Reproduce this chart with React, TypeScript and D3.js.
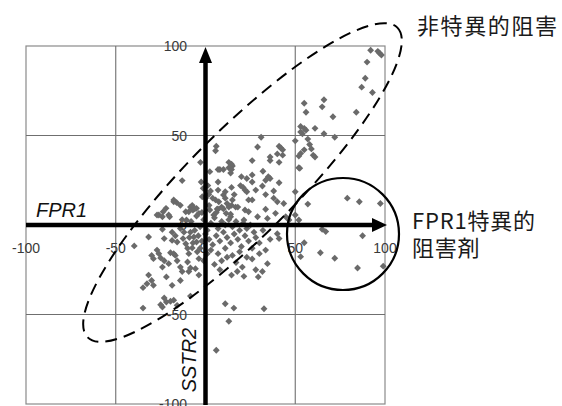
import * as d3 from "d3";

const WIDTH = 562;
const HEIGHT = 406;
const PLOT = { left: 26, right: 385, top: 46, bottom: 404 };

const TICKS = [-100, -50, 0, 50, 100];
const GRID = [-50, 50];

// points, [FPR1, SSTR2]
const upperArm: [number, number][] = [
  [92, 97.6], [96, 97], [97, 96], [98, 95], [90, 91], [89, 82], [87, 77], [93, 74],
  [55, 68], [66, 70], [65, 66], [56, 63], [71, 60.5], [84, 63], [53, 55], [55, 54],
  [56, 53], [61, 54], [54, 51], [66, 51], [72, 49], [57, 48], [50, 47], [58, 45],
  [55, 42], [59, 42.5], [52, 38.5], [60, 39], [61, 38], [42, 43], [43, 39], [52, 32],
  [53, 52], [53, 40], [52.5, 31.7], [50, 18.6],
];

const midUpper: [number, number][] = [
  [31, 49], [6, 44], [29, 43.6], [41, 44], [43, 42], [36, 38], [36, 36], [40, 39.7],
  [26, 36], [13, 35], [15, 33], [41, 35], [14.5, 34], [13, 32], [14.5, 31], [14, 29],
  [8, 31], [10, 31], [32, 30], [26, 28], [20, 27], [23, 26], [35, 27], [33.5, 25],
  [36, 26], [7, 24], [26, 24], [41, 23.6], [19.5, 22], [21, 21], [22, 19.5], [23, 18.6],
  [14.5, 21], [28, 19.5], [31.7, 21.8], [38, 19], [11, 18.6], [10, 16.8], [11, 15],
  [16, 17], [15, 14], [33.5, 17], [24, 14], [26, 14], [38, 15], [40, 13], [43.6, 12],
  [7.4, 13], [9, 10], [6.5, 9], [13, 10], [14.5, 11], [16.8, 10], [22, 8.4], [24, 7.4],
  [33.5, 8.8], [11.5, 6.5], [14, 4.6], [29, 4.6], [34.5, 3.7], [39, 6.5], [44.7, 4.6],
  [46.5, 2.8], [21.4, 2.8], [50, 5.6], [52, 2.8], [5.6, 41.5], [-2.8, 35], [2.4, 29.8],
  [7, 31],
];

const leftUpper: [number, number][] = [
  [-13, 24.8], [-2.4, 24], [-1.3, 20.5], [1.3, 22], [2.8, 19], [1.8, 17], [-1.8, 15.8],
  [0, 15], [7, 19.5], [5.6, 14], [-17.7, 14], [-16, 12.5], [-14, 11], [-22, 9.3],
  [-8.4, 10], [-7, 8.4], [-9.3, 7.4], [-5, 9.3], [-3.7, 6.5], [-26, 5.6], [-24, 4.6],
  [-20, 4.6], [2.4, 8.4], [4.6, 5.6], [7, 8.8], [-13, 3], [-10.6, 2.8], [-17.7, 13],
  [-23.6, 7.4], [-20.5, 5.6], [-11, 7.4], [-7.4, 11], [-27, 5.6],
];

const lowerLeft: [number, number][] = [
  [-24, -2.4], [-31.7, -6.7], [-39.7, -11.7], [-23, -7.6], [-18.6, -4], [-16.8, -6],
  [-18.6, -8.6], [-15.8, -9.5], [-14, -2], [-12, -4], [-12.5, -7.6], [-11, -10.5],
  [-8.4, -4], [-6.5, -6.7], [-5, -9.5], [-10, -13], [-7.4, -12.8], [-9.3, -16],
  [-4.6, -15], [-3.7, -18.8], [-27, -14], [-26, -16], [-25, -18.4], [-30, -17],
  [-29, -18.8], [-19.5, -15.5], [-17.7, -16], [-16.8, -17], [-23, -20], [-20.5, -21.6],
  [-24, -23.5], [-15.8, -20], [-14, -23.5], [-10, -20.7], [-8.4, -24], [-9.3, -26],
  [-5.6, -24.4], [-3.7, -28], [-31.7, -28], [-30, -31], [-32.6, -32.8], [-29, -33.7],
  [-21.8, -29], [-13, -26], [-14, -31], [-34.8, -35], [-18.6, -33.7], [-8.4, -39.7],
  [-23, -40.8], [-21.8, -43], [-19.5, -42.6], [-17.7, -42], [-15.8, -44.9], [-25, -44.5],
  [-24, -45.8], [-34.8, -46.4],
];

const core: [number, number][] = [
  [-8, 2], [-5, 5], [-3, -1], [-1, 3], [1, -3], [3, 1], [5, 4], [7, -2], [9, 2], [11, 0],
  [13, 3], [15, -1], [17, 2], [19, -3], [21, 1], [23, -2], [25, 0], [27, -4], [-6, -3],
  [-4, -6], [-2, -9], [0, -5], [2, -8], [4, -11], [6, -6], [8, -9], [10, -4], [12, -7],
  [14, -10], [16, -5], [18, -8], [20, -12], [22, -6], [24, -9], [26, -13], [28, -7],
  [3, -14], [7, -16], [11, -13], [15, -17], [19, -15], [23, -18], [9, -20], [5, -22],
  [-7, -10], [-9, -7], [-3, -13], [1, -16], [-1, -20], [6, 7], [10, 9], [14, 6], [18, 10],
  [2, 11], [-2, 7], [-6, 9], [12, 12], [4, 15], [30, -10], [32, -3], [36, -8], [8, -25],
  [12, -18], [17, -21], [26, -19], [30, -16],
  [40, -4.9], [41, -7.6], [33.5, -14], [34.5, -21.6], [20.5, -23.5], [17.7, -26],
  [14.5, -28], [28, -25], [31.7, -26], [29.4, -29], [21.4, -28.7], [11, -44], [15.8, -46.4],
  [32.6, -46.8], [13, -53.8], [6, -70],
];

const specific: [number, number][] = [
  [57, 11.7], [65, -2.4], [67, -3.7], [55, -9.9], [53, -17.7], [64, -15.5], [72, -18.6],
  [87.5, -6], [84.7, -24], [99, -23], [97.4, 12], [79, 15], [85.7, 13],
];

const ALL_POINTS = [...upperArm, ...midUpper, ...leftUpper, ...lowerLeft, ...core, ...specific];

const x = d3.scaleLinear().domain([-100, 100]).range([PLOT.left, PLOT.right]);
const y = d3.scaleLinear().domain([-100, 100]).range([PLOT.bottom, PLOT.top]);
const diamond = d3.symbol().type(d3.symbolDiamond2).size(30)() || "";

const TICK_FONT = "'Liberation Sans', Arial, sans-serif";
const CJK_FONT = "'Noto Sans CJK JP', 'Noto Sans', sans-serif";

export default function App() {
  const x0 = x(0);
  const y0 = y(0);
  return (
    <svg
      width={WIDTH}
      height={HEIGHT}
      viewBox={`0 0 ${WIDTH} ${HEIGHT}`}
      style={{ position: "absolute", left: 0, top: 0, background: "#fff" }}
    >
      <rect x={0} y={0} width={WIDTH} height={HEIGHT} fill="#fff" />

      {/* grid + frame */}
      <rect
        x={PLOT.left}
        y={PLOT.top}
        width={PLOT.right - PLOT.left}
        height={PLOT.bottom - PLOT.top}
        fill="none"
        stroke="#8a8a8a"
        strokeWidth={1.2}
      />
      {GRID.map((g) => (
        <g key={`g-${g}`}>
          <line x1={x(g)} x2={x(g)} y1={PLOT.top} y2={PLOT.bottom} stroke="#6f6f6f" strokeWidth={1.1} />
          <line x1={PLOT.left} x2={PLOT.right} y1={y(g)} y2={y(g)} stroke="#6f6f6f" strokeWidth={1.1} />
        </g>
      ))}

      {/* tick labels */}
      {TICKS.map((t) => (
        <text
          key={`yl-${t}`}
          x={187}
          y={y(t) + 5}
          textAnchor="end"
          fontFamily={TICK_FONT}
          fontSize={14}
          fill="#3a3a3a"
        >
          {t}
        </text>
      ))}
      {TICKS.map((t) => (
        <text
          key={`xl-${t}`}
          x={x(t) - (t === 0 ? 2 : 0)}
          y={y0 + 28}
          textAnchor="middle"
          fontFamily={TICK_FONT}
          fontSize={14}
          fill="#3a3a3a"
        >
          {t}
        </text>
      ))}

      {/* points */}
      {ALL_POINTS.map(([px, py], i) => (
        <path key={`p-${i}`} d={diamond} transform={`translate(${x(px)},${y(py)})`} fill="#6a6a6a" />
      ))}

      {/* thick axes with arrows */}
      <line x1={PLOT.left} x2={PLOT.right - 10} y1={y0} y2={y0} stroke="#000" strokeWidth={4.5} />
      <path
        d={`M${PLOT.right + 2},${y0} L${PLOT.right - 13},${y0 - 7} L${PLOT.right - 13},${y0 + 7} Z`}
        fill="#000"
      />
      <line x1={x0} x2={x0} y1={PLOT.bottom + 1} y2={PLOT.top + 12} stroke="#000" strokeWidth={4.5} />
      <path
        d={`M${x0},${PLOT.top + 1} L${x0 - 6.5},${PLOT.top + 17} L${x0 + 6.5},${PLOT.top + 17} Z`}
        fill="#000"
      />

      {/* ellipse and circle */}
      <ellipse
        cx={242.5}
        cy={182.5}
        rx={219}
        ry={53}
        transform="rotate(-45 242.5 182.5)"
        fill="none"
        stroke="#000"
        strokeWidth={2}
        strokeDasharray="12 7"
      />
      <circle cx={343} cy={234} r={56} fill="none" stroke="#000" strokeWidth={2.2} />

      {/* axis titles */}
      <text x={36} y={217} fontFamily={TICK_FONT} fontStyle="italic" fontSize={20} fill="#111">
        FPR1
      </text>
      <text
        transform="translate(196,360) rotate(-90)"
        textAnchor="middle"
        fontFamily={TICK_FONT}
        fontStyle="italic"
        fontSize={20}
        fill="#111"
      >
        SSTR2
      </text>

      {/* annotations */}
      <text x={417} y={34} fontFamily={CJK_FONT} fontSize={22} letterSpacing={1.6} fill="#1a1a1a">
        非特異的阻害
      </text>
      <text x={412} y={229} fontFamily={CJK_FONT} fontSize={22} letterSpacing={0.8} fill="#1a1a1a">
        FPR1特異的
      </text>
      <text x={412} y={256} fontFamily={CJK_FONT} fontSize={22} letterSpacing={0.8} fill="#1a1a1a">
        阻害剤
      </text>
    </svg>
  );
}
